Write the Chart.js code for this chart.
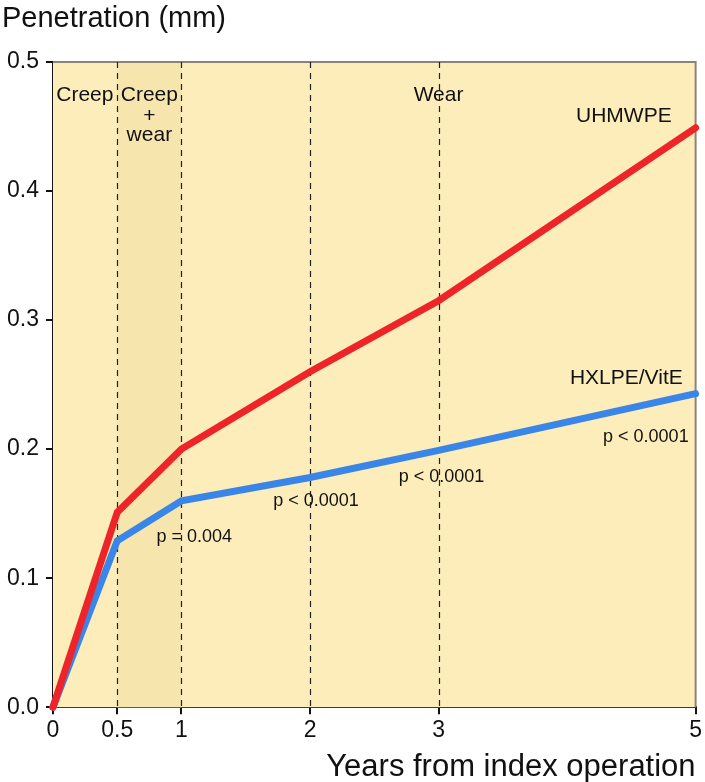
<!DOCTYPE html>
<html>
<head>
<meta charset="utf-8">
<script src="https://cdn.jsdelivr.net/npm/chart.js@4.4.1/dist/chart.umd.min.js"></script>
<style>
  html, body { margin: 0; padding: 0; background: #fff; }
  #wrap { width: 705px; height: 782px; position: relative; }
</style>
</head>
<body>
<div id="wrap"><canvas id="chart" width="705" height="782"></canvas></div>
<script>
// data
const years = [0, 0.5, 1, 2, 3, 5];
const uhmwpe = [0, 0.151, 0.2, 0.26, 0.315, 0.449];
const hxlpe = [0, 0.129, 0.16, 0.178, 0.199, 0.243];
const xTicks = [0, 0.5, 1, 2, 3, 5];
const yTicks = [0, 0.1, 0.2, 0.3, 0.4, 0.5];
const dividers = [0.5, 1, 2, 3];

// text labels: [text, x, y, align]
const phaseLabels = [
    ['Creep', 0.248, 0.474, 'center'],
    ['Creep', 0.75, 0.474, 'center'],
    ['+', 0.75, 0.458, 'center'],
    ['wear', 0.75, 0.443, 'center'],
    ['Wear', 3, 0.474, 'center']
];
const seriesLabels = [
    ['UHMWPE', 4.814, 0.458, 'right'],
    ['HXLPE/VitE', 4.9, 0.255, 'right']
];
const pLabels = [
    ['p = 0.004', 0.806, 0.132, 'left'],
    ['p < 0.0001', 1.713, 0.16, 'left'],
    ['p < 0.0001', 2.69, 0.178, 'left'],
    ['p < 0.0001', 4.28, 0.209, 'left']
];

const FONT = '"Liberation Sans", Arial, Helvetica, sans-serif';

const backdrop = {
    id: 'backdrop',
    beforeDatasetsDraw(chart) {
        const { ctx, chartArea: a, scales: { x, y } } = chart;
        ctx.save();
        ctx.fillStyle = '#fdedba';
        ctx.fillRect(a.left, a.top, a.right - a.left, a.bottom - a.top);
        // creep + wear band
        ctx.fillStyle = '#f7e5ae';
        ctx.fillRect(x.getPixelForValue(0.5), a.top, x.getPixelForValue(1) - x.getPixelForValue(0.5), a.bottom - a.top);
        // frame top / right
        ctx.strokeStyle = '#8a8478';
        ctx.lineWidth = 2;
        ctx.beginPath();
        ctx.moveTo(a.left, a.top);
        ctx.lineTo(a.right, a.top);
        ctx.lineTo(a.right, a.bottom);
        ctx.stroke();
        // dashed dividers
        ctx.strokeStyle = '#222';
        ctx.lineWidth = 1.2;
        ctx.setLineDash([6, 5]);
        dividers.forEach(function (v) {
            const px = Math.round(x.getPixelForValue(v)) + 0.5;
            ctx.beginPath();
            ctx.moveTo(px, a.top);
            ctx.lineTo(px, a.bottom);
            ctx.stroke();
        });
        ctx.setLineDash([]);
        // labels
        ctx.fillStyle = '#111';
        ctx.textBaseline = 'middle';
        ctx.font = '21px ' + FONT;
        phaseLabels.concat(seriesLabels).forEach(function (l) {
            ctx.textAlign = l[3];
            ctx.fillText(l[0], x.getPixelForValue(l[1]), y.getPixelForValue(l[2]));
        });
        ctx.font = '18px ' + FONT;
        pLabels.forEach(function (l) {
            ctx.textAlign = l[3];
            ctx.fillText(l[0], x.getPixelForValue(l[1]), y.getPixelForValue(l[2]));
        });
        // y axis title
        ctx.font = '29px ' + FONT;
        ctx.textAlign = 'left';
        ctx.fillText('Penetration (mm)', 2, 19);
        ctx.restore();
    }
};

new Chart(document.getElementById('chart'), {
    type: 'line',
    data: {
        datasets: [
            {
                label: 'UHMWPE',
                data: years.map(function (t, i) { return { x: t, y: uhmwpe[i] }; }),
                borderColor: '#ee2428',
                borderWidth: 7
            },
            {
                label: 'HXLPE/VitE',
                data: years.map(function (t, i) { return { x: t, y: hxlpe[i] }; }),
                borderColor: '#3a85e8',
                borderWidth: 7
            }
        ]
    },
    options: {
        responsive: false,
        animation: false,
        layout: { padding: { top: 62, right: 0, left: 0, bottom: 0 } },
        elements: { point: { radius: 0 }, line: { tension: 0, borderCapStyle: 'round', borderJoinStyle: 'miter' } },
        datasets: { line: { clip: false } },
        plugins: { legend: { display: false }, tooltip: { enabled: false } },
        scales: {
            x: {
                type: 'linear',
                min: 0,
                max: 5,
                afterBuildTicks: function (s) { s.ticks = xTicks.map(function (v) { return { value: v }; }); },
                ticks: { color: '#111', font: { family: FONT, size: 23 }, padding: 3, maxRotation: 0, autoSkip: false, callback: function (v) { return String(v); } },
                grid: { drawOnChartArea: false, color: '#111', tickColor: '#111', tickLength: 7, lineWidth: 2 },
                border: { display: true, color: '#111', width: 2 },
                title: {
                    display: true,
                    text: 'Years from index operation',
                    align: 'end',
                    color: '#111',
                    font: { family: FONT, size: 31 },
                    padding: { top: 1, bottom: -4 }
                }
            },
            y: {
                min: 0,
                max: 0.5,
                afterBuildTicks: function (s) { s.ticks = yTicks.map(function (v) { return { value: v }; }); },
                ticks: { color: '#111', font: { family: FONT, size: 23 }, padding: 7, callback: function (v) { return v.toFixed(1); } },
                grid: { drawOnChartArea: false, color: '#111', tickColor: '#111', tickLength: 7, lineWidth: 2 },
                border: { display: true, color: '#111', width: 2 }
            }
        }
    },
    plugins: [backdrop]
});
</script>
</body>
</html>
